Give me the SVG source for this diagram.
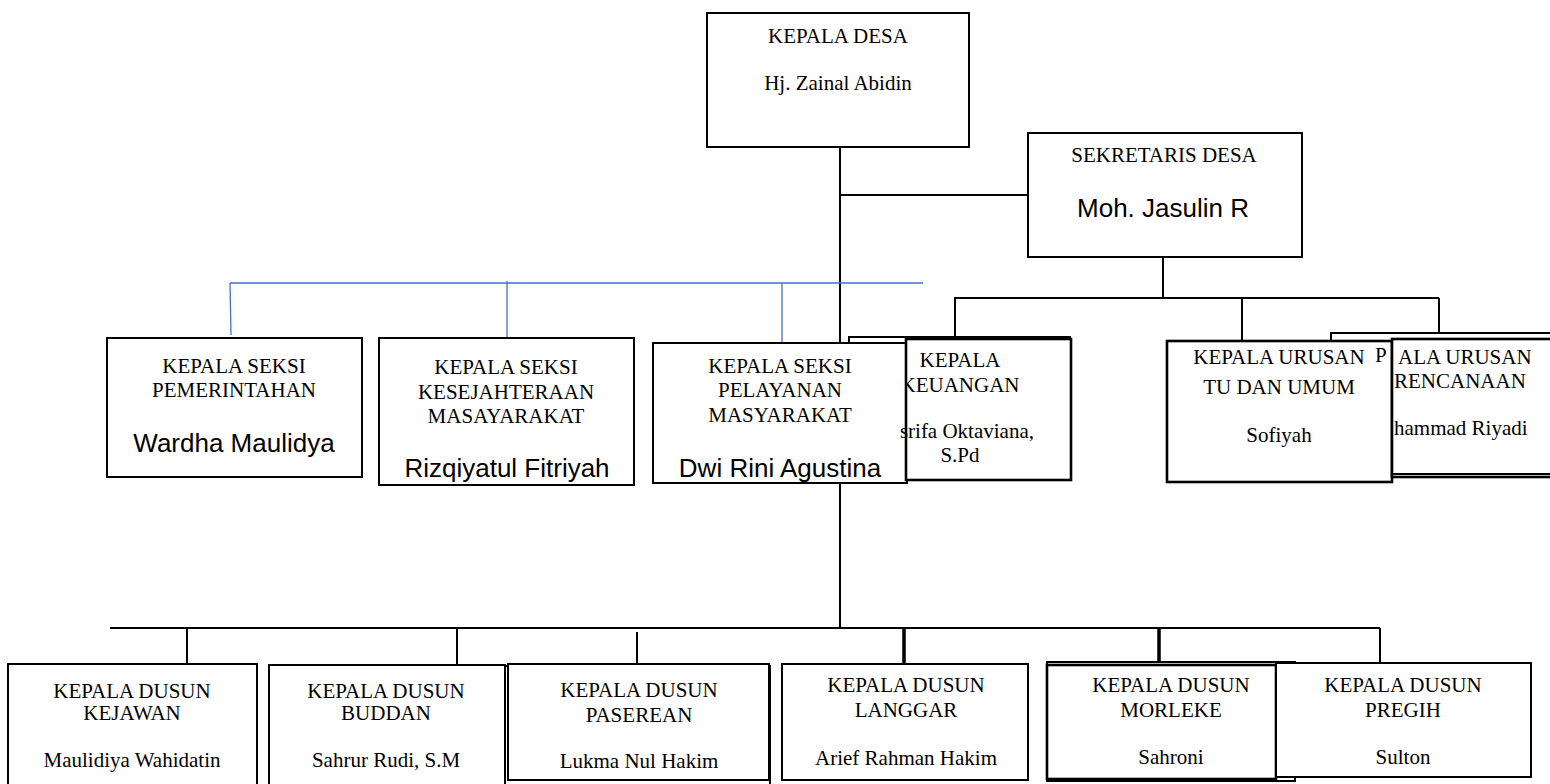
<svg xmlns="http://www.w3.org/2000/svg" width="1550" height="784" viewBox="0 0 1550 784">
<style>
.box{fill:#fff;stroke:#000;stroke-width:2}
.thick{fill:#fff;stroke:#000;stroke-width:2.6}
.ln{fill:none;stroke:#000;stroke-width:2}
.ln3{fill:none;stroke:#000;stroke-width:3.5}
.blue{fill:none;stroke:#4472C4;stroke-width:1.3}
.t{font-family:"Liberation Serif","Times New Roman",serif;font-size:21px;fill:#000;text-anchor:middle}
.ts{font-family:"Liberation Serif","Times New Roman",serif;font-size:21px;fill:#000}
.n{font-family:"Liberation Sans",Arial,sans-serif;font-size:26px;fill:#000;text-anchor:middle}
</style>
<defs>
<clipPath id="clipKeu"><rect x="907" y="330" width="170" height="160"/></clipPath>
</defs>
<rect width="1550" height="784" fill="#fff"/>
<g id="connectors">
<path class="ln" d="M840,147 V343 M840,195 H1028 M1163,257 V298 M954,298 H1439 M955,298 V337 M1242,298 V341 M1439,298 V333"/>
<path class="blue" d="M230,283 H923 M230,283 L231,335 M507,281 V341 M782,283 V343"/>
<path class="ln" d="M840,483 V628 M110,628 H1380 M187,628 V664 M457,628 V665 M637,632 V664 M1380,628 V662"/>
<path class="ln3" d="M904,628 V664 M1159,628 V664"/>
</g>
<g id="kepala-desa">
<rect class="box" x="707" y="13" width="262" height="134"/>
<text class="t" x="838" y="43">KEPALA DESA</text>
<text class="t" x="838" y="90">Hj. Zainal Abidin</text>
</g>
<g id="sekretaris">
<rect class="box" x="1028" y="133" width="274" height="124"/>
<text class="t" x="1164" y="162">SEKRETARIS DESA</text>
<text class="n" x="1163" y="217">Moh. Jasulin R</text>
</g>
<g id="pemerintahan">
<rect class="box" x="107" y="338" width="255" height="139"/>
<text class="t" x="234" y="373">KEPALA SEKSI</text>
<text class="t" x="234" y="397">PEMERINTAHAN</text>
<text class="n" x="234" y="452">Wardha Maulidya</text>
</g>
<g id="kesejahteraan">
<rect class="box" x="379" y="338" width="255" height="147"/>
<text class="t" x="506" y="374">KEPALA SEKSI</text>
<text class="t" x="506" y="399">KESEJAHTERAAN</text>
<text class="t" x="506" y="423">MASAYARAKAT</text>
<text class="n" x="507" y="477">Rizqiyatul Fitriyah</text>
</g>
<g id="keuangan-back">
<path class="ln" d="M849,343 V337 H1071"/>
</g>
<g id="pelayanan">
<rect class="box" x="653" y="343" width="254" height="140"/>
<text class="t" x="780" y="373">KEPALA SEKSI</text>
<text class="t" x="780" y="397">PELAYANAN</text>
<text class="t" x="780" y="422">MASYARAKAT</text>
<text class="n" x="780" y="477">Dwi Rini Agustina</text>
</g>
<g id="keuangan">
<rect class="thick" x="906" y="339" width="165" height="141"/>
<g clip-path="url(#clipKeu)">
<text class="t" x="960" y="367">KEPALA</text>
<text class="t" x="960" y="392">KEUANGAN</text>
</g>
<text class="ts" x="1034" y="438" text-anchor="end">srifa Oktaviana,</text>
<text class="t" x="960" y="462">S.Pd</text>
</g>
<g id="tu-umum">
<rect class="thick" x="1167" y="341" width="225" height="141"/>
<text class="t" x="1279" y="364">KEPALA URUSAN</text>
<text class="t" x="1279" y="394">TU DAN UMUM</text>
<text class="t" x="1279" y="442">Sofiyah</text>
</g>
<g id="perencanaan">
<path class="ln" d="M1331,341 V333 H1560"/>
<rect class="thick" x="1392" y="339" width="170" height="138"/>
<path class="ln" d="M1392,474 H1560"/>
<text class="ts" x="1375" y="362">P</text>
<text class="ts" x="1398" y="364">ALA URUSAN</text>
<text class="ts" x="1394" y="388">RENCANAAN</text>
<text class="ts" x="1394" y="435">hammad Riyadi</text>
</g>
<g id="kejawan">
<rect class="box" x="8" y="664" width="249" height="135"/>
<text class="t" x="132" y="698">KEPALA DUSUN</text>
<text class="t" x="132" y="720">KEJAWAN</text>
<text class="t" x="132" y="767">Maulidiya Wahidatin</text>
</g>
<g id="buddan">
<rect class="box" x="269" y="665" width="236" height="134"/>
<text class="t" x="386" y="698">KEPALA DUSUN</text>
<text class="t" x="386" y="720">BUDDAN</text>
<text class="t" x="386" y="767">Sahrur Rudi, S.M</text>
</g>
<g id="pasirean">
<rect class="box" x="505" y="666" width="265" height="133"/>
<rect class="box" x="508" y="664" width="261" height="116"/>
<text class="t" x="639" y="697">KEPALA DUSUN</text>
<text class="t" x="639" y="722">PASEREAN</text>
<text class="t" x="639" y="768">Lukma Nul Hakim</text>
</g>
<g id="langgar">
<rect class="box" x="782" y="664" width="246" height="116"/>
<text class="t" x="906" y="692">KEPALA DUSUN</text>
<text class="t" x="906" y="717">LANGGAR</text>
<text class="t" x="906" y="765">Arief Rahman Hakim</text>
</g>
<g id="morleke">
<rect class="box" x="1047" y="662" width="248" height="119"/>
<rect class="thick" x="1047" y="665" width="229" height="114"/>
<text class="t" x="1171" y="692">KEPALA DUSUN</text>
<text class="t" x="1171" y="717">MORLEKE</text>
<text class="t" x="1171" y="764">Sahroni</text>
</g>
<g id="pregih">
<rect class="box" x="1276" y="663" width="255" height="114"/>
<text class="t" x="1403" y="692">KEPALA DUSUN</text>
<text class="t" x="1403" y="717">PREGIH</text>
<text class="t" x="1403" y="764">Sulton</text>
</g>
</svg>
